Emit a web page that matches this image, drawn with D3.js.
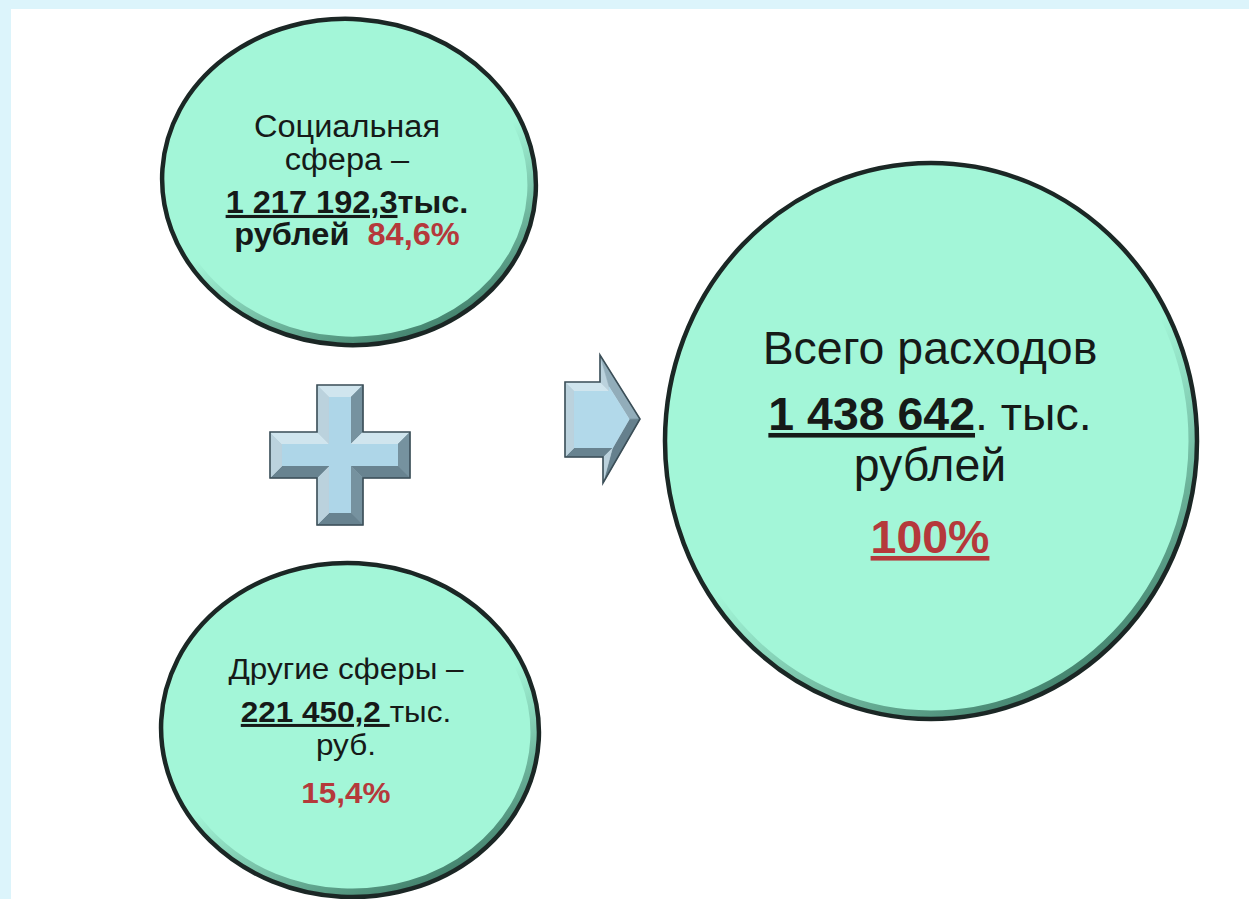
<!DOCTYPE html>
<html><head><meta charset="utf-8">
<script src="https://cdn.jsdelivr.net/npm/d3@7"></script>
<style>
html,body{margin:0;padding:0;background:#dcf4fb;overflow:hidden;}
svg{display:block;}
text{font-family:"Liberation Sans",Arial,sans-serif;white-space:pre;}
</style>
</head><body>
<svg id="c" width="1249" height="899"></svg>
<script>
// ---- data ----
const categories = ["Социальная сфера", "Другие сферы", "Всего расходов"];
const values = [1217192.3, 221450.2, 1438642];
const shares = [84.6, 15.4, 100];
const unitShort = "тыс.";
const unitRub = ["рублей", "руб.", "рублей"];

// ---- formatting ----
const ru = d3.formatLocale({decimal: ",", thousands: " ", grouping: [3], currency: ["", ""]});
const fmt1 = ru.format(",.1f"), fmtInt = ru.format(",d"), fmtP = ru.format(".1f");
const pct = v => (Number.isInteger(v) ? String(v) : fmtP(v)) + "%";

const TXT = "#161a18", RED = "#b5393b";

const svg = d3.select("#c");
svg.append("rect").attr("x", 11).attr("y", 9).attr("width", 1249).attr("height", 899).attr("fill", "#ffffff");

const defs = svg.append("defs");
const g = defs.append("linearGradient").attr("id", "bev").attr("x1", 0.15).attr("y1", 0).attr("x2", 0.75).attr("y2", 1);
g.append("stop").attr("offset", "0%").attr("stop-color", "#3a7562").attr("stop-opacity", 0);
g.append("stop").attr("offset", "55%").attr("stop-color", "#3a7562").attr("stop-opacity", 0);
g.append("stop").attr("offset", "100%").attr("stop-color", "#2f6a57").attr("stop-opacity", 0.9);

// ---- bubble layout ----
const w0 = categories[0].split(" ");
const bubbles = [
  {cx: 349, cy: 182, rx: 187, ry: 163, rot: 4, tx: 347, fs: 31, sx: 1.05,
   lines: [
     {y: 137, parts: [{t: w0[0]}]},
     {y: 170, parts: [{t: w0[1] + " –"}]},
     {y: 213, parts: [{t: fmt1(values[0]), b: 1, u: 1}, {t: unitShort, b: 1}]},
     {y: 245, parts: [{t: unitRub[0] + "  ", b: 1}, {t: pct(shares[0]), b: 1, red: 1}]}
   ]},
  {cx: 350, cy: 730, rx: 189, ry: 167, rot: 3, tx: 346, fs: 30, sx: 1.05,
   lines: [
     {y: 679, parts: [{t: categories[1] + " –"}]},
     {y: 722, parts: [{t: fmt1(values[1]) + " ", b: 1, u: 1}, {t: unitShort}]},
     {y: 755, parts: [{t: unitRub[1]}]},
     {y: 803, parts: [{t: pct(shares[1]), b: 1, red: 1}]}
   ]},
  {cx: 931, cy: 441, rx: 266, ry: 278, rot: 0, tx: 930, fs: 46, sx: 1.01,
   lines: [
     {y: 364, parts: [{t: categories[2]}]},
     {y: 430, parts: [{t: fmtInt(values[2]), b: 1, u: 1}, {t: ". " + unitShort}]},
     {y: 481, parts: [{t: unitRub[2]}]},
     {y: 553, parts: [{t: pct(shares[2]), b: 1, red: 1, u: 1}]}
   ]}
];

bubbles.forEach(d => {
  const gg = svg.append("g").attr("transform", `rotate(${d.rot},${d.cx},${d.cy})`);
  gg.append("ellipse").attr("cx", d.cx).attr("cy", d.cy).attr("rx", d.rx).attr("ry", d.ry)
    .attr("fill", "#a3f6d8");
  gg.append("ellipse").attr("cx", d.cx).attr("cy", d.cy).attr("rx", d.rx - 5).attr("ry", d.ry - 5)
    .attr("fill", "none").attr("stroke", "url(#bev)").attr("stroke-width", 7);
  gg.append("ellipse").attr("cx", d.cx).attr("cy", d.cy).attr("rx", d.rx).attr("ry", d.ry)
    .attr("fill", "none").attr("stroke", "#1b2725").attr("stroke-width", 4.5);

  const tg = svg.append("g").attr("transform", `translate(${d.tx},0) scale(${d.sx},1) translate(${-d.tx},0)`);
  d.lines.forEach(l => {
    const t = tg.append("text").attr("x", d.tx).attr("y", l.y).attr("text-anchor", "middle")
      .attr("font-size", d.fs).attr("fill", TXT);
    l.parts.forEach(p => {
      t.append("tspan").text(p.t)
        .attr("font-weight", p.b ? "bold" : "normal")
        .attr("fill", p.red ? RED : TXT)
        .style("text-decoration", p.u ? "underline" : "none");
    });
  });
});

// ---- beveled shapes (plus and arrow) ----
function offsetPoly(pts, b) {
  const n = pts.length, lines = [];
  for (let i = 0; i < n; i++) {
    const a = pts[i], c = pts[(i + 1) % n];
    let dx = c[0] - a[0], dy = c[1] - a[1]; const L = Math.hypot(dx, dy); dx /= L; dy /= L;
    const nx = -dy, ny = dx;
    lines.push({p: [a[0] + nx * b, a[1] + ny * b], d: [dx, dy], n: [nx, ny]});
  }
  const inner = [];
  for (let i = 0; i < n; i++) {
    const l1 = lines[(i - 1 + n) % n], l2 = lines[i];
    const det = l1.d[0] * (-l2.d[1]) - l1.d[1] * (-l2.d[0]);
    const rx = l2.p[0] - l1.p[0], ry = l2.p[1] - l1.p[1];
    const s = (rx * (-l2.d[1]) - ry * (-l2.d[0])) / det;
    inner.push([l1.p[0] + l1.d[0] * s, l1.p[1] + l1.d[1] * s]);
  }
  return {inner, lines};
}
const shade = d3.scaleLinear().domain([-1, 0, 1]).range(["#5f7b88", "#93aebb", "#dcf0f8"]).interpolate(d3.interpolateRgb);
function bevelShape(pts, b, face) {
  const {inner, lines} = offsetPoly(pts, b);
  const n = pts.length;
  const grp = svg.append("g");
  const lx = -0.55, ly = -0.835;
  for (let i = 0; i < n; i++) {
    const o = [-lines[i].n[0], -lines[i].n[1]];
    const q = [pts[i], pts[(i + 1) % n], inner[(i + 1) % n], inner[i]];
    grp.append("path").attr("d", d3.line()(q) + "Z").attr("fill", shade(o[0] * lx + o[1] * ly))
      .attr("stroke", shade(o[0] * lx + o[1] * ly)).attr("stroke-width", 0.6);
  }
  grp.append("path").attr("d", d3.line()(inner) + "Z").attr("fill", face);
  grp.append("path").attr("d", d3.line()(pts) + "Z").attr("fill", "none").attr("stroke", "#3b4e57").attr("stroke-width", 1.6);
  return grp;
}
// plus
(function () {
  const cx = 340, cy = 455, L = 70, T = 23;
  const p = [[-T,-L],[T,-L],[T,-T],[L,-T],[L,T],[T,T],[T,L],[-T,L],[-T,T],[-L,T],[-L,-T],[-T,-T]]
    .map(q => [cx + q[0], cy + q[1]]);
  bevelShape(p, 12, "#aed6e8");
})();
// arrow
(function () {
  const p = [[565,382],[600,382],[600,355],[640,419],[603,483],[603,457],[565,457]];
  bevelShape(p, 9, "#b2d9ea");
})();
</script>
</body></html>
